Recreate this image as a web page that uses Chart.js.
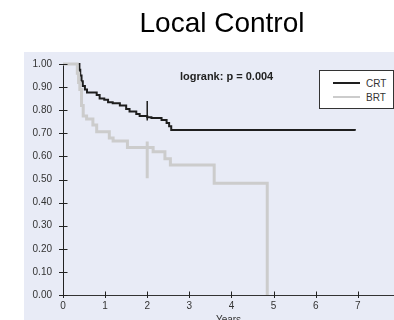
<!DOCTYPE html>
<html><head><meta charset="utf-8">
<script src="https://cdn.jsdelivr.net/npm/chart.js@4"></script>
<style>
html,body{margin:0;padding:0;background:#fff;}
#wrap{position:relative;width:394px;height:320px;overflow:hidden;}
#c{position:absolute;left:0;top:0;}
.title{position:absolute;left:222px;top:9px;transform:translateX(-50%);font:28px/28px "Liberation Sans",Arial,sans-serif;color:#000;white-space:nowrap;}
.logrank{position:absolute;left:180px;top:71px;font:bold 11px/11px "Liberation Sans",Arial,sans-serif;color:#222;white-space:nowrap;}
.legend{position:absolute;left:319px;top:70px;width:73px;height:37px;background:#fff;border:1px solid #333;}
.ln{position:absolute;left:13px;width:27px;}
.lt{position:absolute;left:46px;font:10px/10px "Liberation Sans",Arial,sans-serif;color:#333;}
</style>
</head><body>
<div id="wrap">
<canvas id="c" width="394" height="320"></canvas>
<div class="title">Local Control</div>
<div class="logrank">logrank: p = 0.004</div>
<div class="legend">
  <div class="ln" style="top:11px;height:2px;background:#1e1e1e;"></div>
  <div class="lt" style="top:8px;">CRT</div>
  <div class="ln" style="top:25px;height:2px;background:#cccccc;"></div>
  <div class="lt" style="top:22px;">BRT</div>
</div>
</div>
<script>
// ---- data ----
const seriesNames = ["CRT", "BRT"];
const yearTicks = [0, 1, 2, 3, 4, 5, 6, 7];
const survTicks = [0, 0.1, 0.2, 0.3, 0.4, 0.5, 0.6, 0.7, 0.8, 0.9, 1.0];

const crtTime = [0, 0.39, 0.41, 0.44, 0.47, 0.52, 0.57, 0.80, 0.87, 0.98, 1.07, 1.18, 1.35, 1.50, 1.58, 1.74, 1.82, 2.00, 2.10, 2.34, 2.46, 2.52, 2.57, 6.93];
const crtSurv = [1.00, 0.975, 0.95, 0.925, 0.905, 0.89, 0.877, 0.866, 0.851, 0.845, 0.834, 0.83, 0.82, 0.805, 0.794, 0.784, 0.775, 0.769, 0.766, 0.758, 0.745, 0.73, 0.714, 0.711];

const brtTime = [0, 0.34, 0.37, 0.40, 0.44, 0.48, 0.56, 0.71, 0.80, 1.10, 1.19, 1.53, 2.14, 2.42, 2.55, 3.59, 4.85];
const brtSurv = [1.00, 0.96, 0.92, 0.89, 0.82, 0.775, 0.762, 0.736, 0.707, 0.68, 0.667, 0.638, 0.62, 0.59, 0.563, 0.484, 0.0];

const markTime = [2, 2];
const crtMark = [0.84, 0.755];
const brtMark = [0.665, 0.505];

const pts = (xs, ys) => xs.map((x, i) => ({x: x, y: ys[i]}));

const panel = {
  id: 'panel',
  beforeDraw(chart) {
    const {ctx, chartArea} = chart;
    ctx.save();
    ctx.fillStyle = '#e8ebf6';
    ctx.fillRect(chartArea.left - 39, chartArea.top - 12, chart.width, chart.height);
    ctx.restore();
  }
};

const tickMarks = {
  id: 'tickMarks',
  afterDraw(chart) {
    const {ctx, scales: {x, y}} = chart;
    ctx.save();
    ctx.strokeStyle = '#222';
    ctx.lineWidth = 1;
    ctx.beginPath();
    y.ticks.forEach(t => {
      const py = Math.round(y.getPixelForValue(t.value)) + 0.5;
      ctx.moveTo(x.left - 4, py); ctx.lineTo(x.left + 4.5, py);
    });
    x.ticks.forEach(t => {
      const px = Math.round(x.getPixelForValue(t.value)) + 0.5;
      ctx.moveTo(px, y.bottom - 3.5); ctx.lineTo(px, y.bottom + 3);
    });
    ctx.stroke();
    ctx.restore();
  }
};

new Chart(document.getElementById('c'), {
  type: 'line',
  data: {
    datasets: [
      {label: seriesNames[1], data: pts(brtTime, brtSurv), stepped: true, borderColor: '#cccccc', borderWidth: 3, pointRadius: 0, clip: false, order: 0, borderCapStyle: 'butt'},
      {label: seriesNames[0], data: pts(crtTime, crtSurv), stepped: true, borderColor: '#1e1e1e', borderWidth: 2, pointRadius: 0, clip: false, order: 1},
      {label: 'BRT mark', data: pts(markTime, brtMark), borderColor: '#cccccc', borderWidth: 3, pointRadius: 0, clip: false, order: 2},
      {label: 'CRT mark', data: pts(markTime, crtMark), borderColor: '#1e1e1e', borderWidth: 1.5, pointRadius: 0, clip: false, order: 1}
    ]
  },
  options: {
    responsive: false,
    animation: false,
    events: [],
    layout: {padding: {left: 0, top: 64, right: 0, bottom: 0}},
    plugins: {legend: {display: false}, tooltip: {enabled: false}, title: {display: false}},
    scales: {
      x: {
        type: 'linear', min: 0, max: 7.86,
        afterBuildTicks: s => { s.ticks = yearTicks.map(v => ({value: v})); },
        afterFit: s => { s.height = 25; },
        grid: {display: false, drawTicks: false},
        border: {display: true, color: '#333', width: 1},
        ticks: {color: '#333', padding: 5, maxRotation: 0, font: {family: 'Liberation Sans', size: 10}, callback: v => String(v)},
        title: {display: true, text: 'Years', color: '#333', font: {family: 'Liberation Sans', size: 10}, padding: {top: 0, bottom: -6}}
      },
      y: {
        type: 'linear', min: 0, max: 1,
        afterBuildTicks: s => { s.ticks = survTicks.map(v => ({value: v})); },
        afterFit: s => { s.width = 63; },
        grid: {display: false, drawTicks: false},
        border: {display: true, color: '#222', width: 1},
        ticks: {color: '#333', padding: 11, font: {family: 'Liberation Sans', size: 10}, callback: v => Number(v).toFixed(2)}
      }
    }
  },
  plugins: [panel, tickMarks]
});
</script>
</body></html>
